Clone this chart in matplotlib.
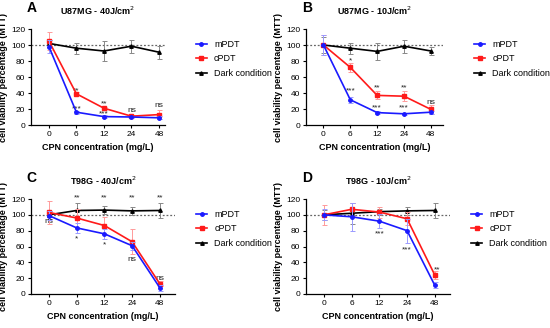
import matplotlib
matplotlib.use("Agg")
import matplotlib.pyplot as plt
from matplotlib.lines import Line2D
import numpy as np

plt.rcParams['font.family'] = ['Liberation Sans', 'DejaVu Sans']

doses = ['0', '6', '12', '24', '48']

# panel A - U87MG 40J
a_m = [98, 16, 10.5, 10, 9]
a_m_err = [8, 2, 1.5, 1.5, 2]
a_c = [105, 39, 21, 11, 13]
a_c_err = [11, 2, 2, 1.5, 6]
a_d = [102, 96, 92.5, 98.5, 91]
a_d_err = [4, 7, 12, 8, 8]
a_txt = [(1, 43, '**'), (1, 20, '***'), (2, 26, '**'), (2, 14, '***'), (3, 18, 'ns'), (4, 24, 'ns')]

# panel B - U87MG 10J
b_m = [100, 31.5, 15.5, 14, 16]
b_m_err = [12, 4, 1.5, 1.5, 2]
b_c = [100, 72, 37, 36, 19.5]
b_c_err = [12, 6, 5, 6, 6]
b_d = [100, 96, 92, 98.5, 92.5]
b_d_err = [10, 7, 11, 8, 5]
b_txt = [(1, 80, '*'), (1, 43, '***'), (2, 47, '**'), (2, 22, '***'), (3, 47, '**'), (3, 21, '***'), (4, 28, 'ns')]

# panel C - T98G 40J
c_m = [99, 83.5, 76, 61, 8]
c_m_err = [6, 6, 6, 5, 4]
c_c = [103, 96, 86.5, 66, 13]
c_c_err = [14, 12, 11, 16, 3]
c_d = [100, 105.5, 106, 105, 105.5]
c_d_err = [5, 10, 5, 5, 9]
c_txt = [(0, 91, 'ns'), (1, 121, '**'), (1, 70, '*'), (2, 121, '**'), (2, 62, '*'), (3, 121, '**'),
         (3, 44, 'ns'), (4, 121, '**'), (4, 20, 'ns')]

# panel D - T98G 10J
d_m = [100, 97.5, 92, 80, 11]
d_m_err = [7, 18, 9, 15, 4]
d_c = [100, 107, 103.5, 95, 24]
d_c_err = [13, 8, 7, 8, 5]
d_d = [100, 102, 104, 105, 105.5]
d_d_err = [6, 13, 4, 5, 9]
d_txt = [(2, 76, '***'), (3, 56, '***'), (4.08, 30, '**')]

panels = [
    ('A', 'U87MG - 40J/cm$^2$', a_m, a_m_err, a_c, a_c_err, a_d, a_d_err, a_txt, [31, 165, 29, 125]),
    ('B', 'U87MG - 10J/cm$^2$', b_m, b_m_err, b_c, b_c_err, b_d, b_d_err, b_txt, [306, 443, 29, 125]),
    ('C', 'T98G - 40J/cm$^2$', c_m, c_m_err, c_c, c_c_err, c_d, c_d_err, c_txt, [31, 175, 199, 294]),
    ('D', 'T98G - 10J/cm$^2$', d_m, d_m_err, d_c, d_c_err, d_d, d_d_err, d_txt, [306, 450, 199, 294]),
]

W, H = 550, 328
fig = plt.figure(figsize=(5.5, 3.28), dpi=100)

for letter, title, m, me, c, ce, d, de, txt, box in panels:
    l, r, t, b = box
    ax = fig.add_axes([l / W, 1 - b / H, (r - l) / W, (b - t) / H])
    x = np.arange(len(doses))
    ax.axhline(100, color='#666666', ls=(0, (1.5, 1.5)), lw=0.9, zorder=1)
    ax.errorbar(x, d, yerr=de, color='black', ecolor='#888888', marker='^', ms=2.5,
                lw=1.2, capsize=1.8, elinewidth=0.7, capthick=0.7, zorder=3)
    ax.errorbar(x, c, yerr=ce, color='#ff1a1a', ecolor='#ff9a9a', marker='s', ms=2.8,
                lw=1.2, capsize=1.8, elinewidth=0.7, capthick=0.7, zorder=4)
    ax.errorbar(x, m, yerr=me, color='#1a1aff', ecolor='#9a9aff', marker='o', ms=2.5,
                lw=1.2, capsize=1.8, elinewidth=0.7, capthick=0.7, zorder=5)
    for xi, yi, s in txt:
        ax.text(xi, yi, s, fontsize=6, ha='center', va='center', color='#222222')
    right_lim = 4.22 if letter == 'A' else (4.45 if letter == 'B' else 4.55)
    ax.set_xlim(-0.65, right_lim)
    ax.set_ylim(0, 120)
    ax.set_yticks(range(0, 121, 20))
    ax.set_xticks(x)
    ax.set_xticklabels(doses)
    ax.tick_params(labelsize=6, length=2.5, width=0.8, pad=1.5)
    for s in ['top', 'right']:
        ax.spines[s].set_visible(False)
    for s in ['left', 'bottom']:
        ax.spines[s].set_linewidth(0.9)
    ax.set_ylabel('cell viability percentage (MTT)', fontsize=6.5, fontweight='bold', labelpad=2)
    ax.set_xlabel('CPN concentration (mg/L)', fontsize=6.5, fontweight='bold', labelpad=4)
    ax.set_title(title, fontsize=6.5, fontweight='bold', pad=10)
    ax.text(-0.03, 1.22, letter, transform=ax.transAxes, fontsize=10, fontweight='bold',
            ha='left', va='center')
    handles = [Line2D([], [], color='#1a1aff', marker='o', ms=2.5, lw=1.2),
               Line2D([], [], color='#ff1a1a', marker='s', ms=2.8, lw=1.2),
               Line2D([], [], color='black', marker='^', ms=2.5, lw=1.2)]
    ax.legend(handles, ['mPDT', 'cPDT', 'Dark condition'], loc='upper left',
              bbox_to_anchor=(1.17 if letter in 'AB' else 1.09, 0.97), frameon=False,
              fontsize=6.5, handlelength=1.2, handletextpad=0.8, labelspacing=0.6)

fig.savefig('out.png', dpi=100)
